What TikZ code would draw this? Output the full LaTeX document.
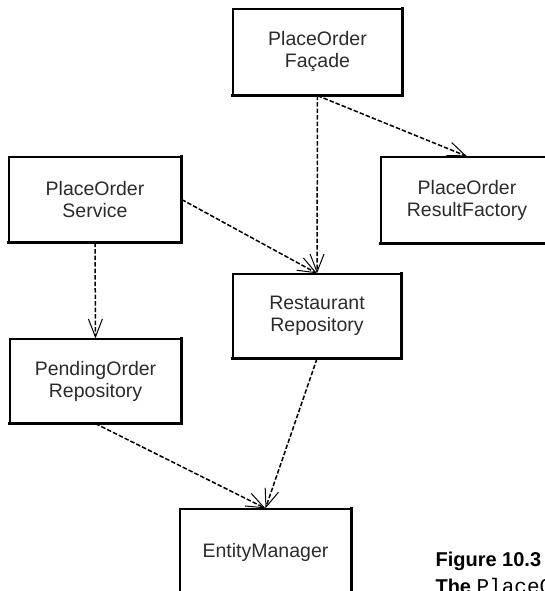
\documentclass[tikz,border=0pt]{standalone}
\usepackage{fontspec}
\setmainfont{Liberation Sans}
\newfontfamily\capmono{Liberation Mono}
\usetikzlibrary{arrows.meta}
\definecolor{boxtext}{HTML}{2B2B2B}
\begin{document}
\begin{tikzpicture}[x=1pt,y=-1pt,
  box/.style={draw=black, line width=1.3pt, rectangle, minimum width=#1,
    minimum height=85pt, inner sep=0pt, align=center, text=boxtext,
    font=\fontsize{19.5}{22}\selectfont},
  box/.default=171pt,
  shade edge/.style={line width=2.4pt, line cap=rect},
  dep/.style={line width=1.5pt, dash pattern=on 4.5pt off 2pt,
    -{Straight Barb[length=18pt,width=14pt,line width=1pt]}},
  captitle/.style={anchor=base west, font=\fontsize{20}{24}\selectfont\bfseries}
]
\useasboundingbox (0,0) rectangle (545,591);
\clip (0,0) rectangle (545,591);

% classes
\node[box=169pt, minimum height=86pt] (facade) at (317.5,52) {PlaceOrder\\Façade};
\node[box=172pt, minimum height=86pt] (result) at (467,200) {PlaceOrder\\ResultFactory};
\node[box=172pt] (service) at (95,199.5) {PlaceOrder\\Service};
\node[box=168pt, minimum height=84pt] (restaurant) at (317,316) {Restaurant\\Repository};
\node[box=171pt, minimum height=84pt] (pending) at (95.5,381) {PendingOrder\\Repository};
\node[box=171pt, minimum height=86pt] (entity) at (265.5,552) {EntityManager};

% heavier bottom and right edges
\foreach \n in {facade,result,service,restaurant,pending,entity}
  \draw[shade edge] (\n.north east) -- (\n.south east) -- (\n.south west);

% dependencies
\draw[dep] (facade.south) -- (result.north);
\draw[dep] (facade.south) -- (restaurant.north);
\draw[dep] (service.east) -- (restaurant.north);
\draw[dep] (service.south) -- (pending.north);
\draw[dep] (pending.south) -- (entity.north);
\draw[dep] (restaurant.south) -- (entity.north);

% caption
\node[captitle] (figno) at (432,566) {Figure 10.3};
\node[captitle] (figtext) at (432,593) {The {\mdseries\capmono\fontsize{21}{24}\selectfont PlaceO}};
\end{tikzpicture}
\end{document}
